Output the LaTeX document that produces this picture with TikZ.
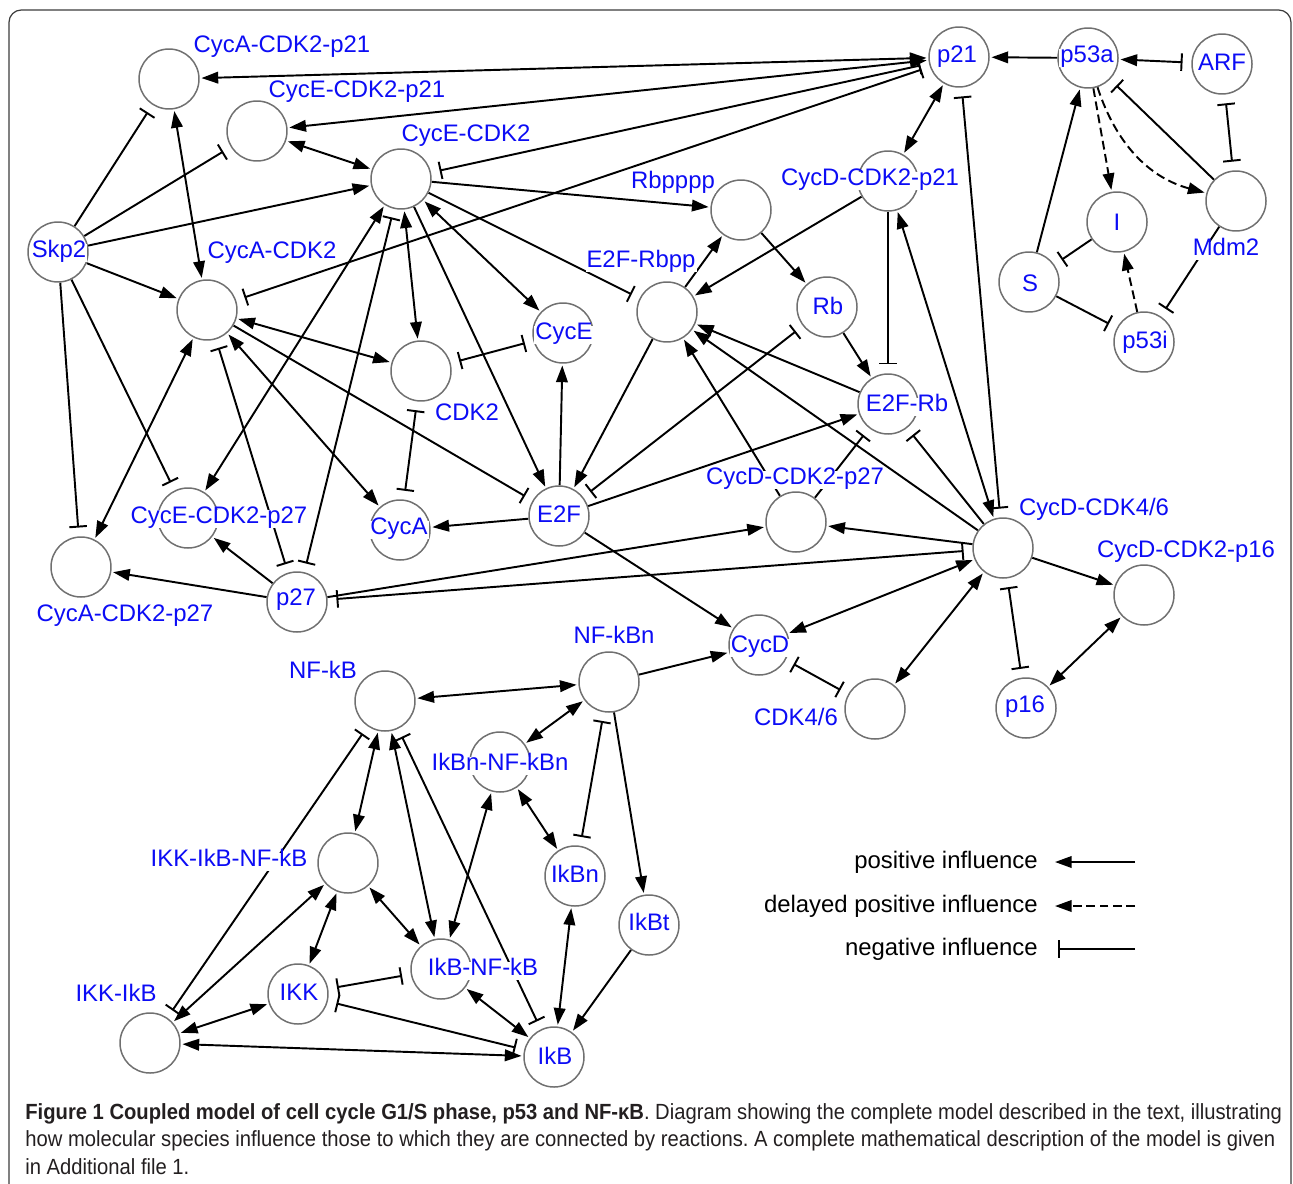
\documentclass[tikz,border=0pt]{standalone}
\usepackage{fontspec}
\setmainfont{Liberation Sans}
\newfontfamily\capfont[FakeStretch=0.92]{Liberation Sans}
\usepackage{tikz}
\usetikzlibrary{arrows.meta}
\usepackage{xcolor}
\definecolor{spblue}{RGB}{12,12,245}
\definecolor{ringgray}{RGB}{112,112,112}
\definecolor{framegray}{RGB}{60,60,60}
\definecolor{captext}{RGB}{35,31,32}
\pgfdeclarelayer{edgelayer}
\pgfsetlayers{edgelayer,main}
\frenchspacing

\tikzset{
  species/.style={circle, draw=ringgray, line width=0.85pt, minimum size=1.2cm, inner sep=0pt},
  spname/.style={text=spblue, fill=white, inner sep=0.6pt, text height=0.74em, text depth=0.2em, font=\fontsize{13.6}{15}\selectfont},
  legtext/.style={anchor=east, inner sep=0pt, text height=0.74em, text depth=0.2em, font=\fontsize{13.6}{15}\selectfont},
  capline/.style={anchor=west, inner sep=0pt, text=captext, font=\capfont\fontsize{12.5}{14}\selectfont},
  act/.style={-{Triangle[length=9.5pt,width=6.6pt]}, shorten >=1pt},
  actboth/.style={{Triangle[length=9.5pt,width=6.6pt]}-{Triangle[length=9.5pt,width=6.6pt]}, shorten >=1pt, shorten <=1pt},
  inh/.style={-{Bar[width=10pt]}, shorten >=5pt},
  inhboth/.style={{Bar[width=10pt]}-{Bar[width=10pt]}, shorten >=5pt, shorten <=5pt},
  actinh/.style={{Triangle[length=9.5pt,width=6.6pt]}-{Bar[width=10pt]}, shorten <=1pt, shorten >=5pt},
  delayed/.style={act, dash pattern=on 5pt off 2.6pt}
}

\begin{document}
\begin{tikzpicture}[x=0.02cm, y=-0.02cm]
\useasboundingbox (0,0) rectangle (1293,1183);
\draw[framegray, line width=0.7pt, rounded corners=7pt] (9,1200) -- (9,10) -- (1291,10) -- (1291,1200);

% species of the cell cycle and p53 part
\node[species] (cac21) at (169,79) {};
\node[species] (cec21) at (257,131) {};
\node[species] (cec2) at (401,179) {};
\node[species] (p21) at (959,57) {};
\node[species] (p53a) at (1088,58) {};
\node[species] (arf) at (1222,64) {};
\node[species] (mdm2) at (1236,201) {};
\node[species] (i) at (1117,222) {};
\node[species] (s) at (1029,282) {};
\node[species] (p53i) at (1144,342) {};
\node[species] (skp2) at (58,252) {};
\node[species] (cac2) at (207,310) {};
\node[species] (rbpppp) at (741,210) {};
\node[species] (cd21) at (888,181) {};
\node[species] (e2frbpp) at (667,312) {};
\node[species] (rb) at (827,307) {};
\node[species] (cyce) at (563,333) {};
\node[species] (cdk2) at (421,371) {};
\node[species] (e2frb) at (888,404) {};
\node[species] (cd27) at (796,522) {};
\node[species] (cd46) at (1003,548) {};
\node[species] (cd16) at (1144,595) {};
\node[species] (p16) at (1026,708) {};
\node[species] (ce27) at (188,518) {};
\node[species] (cyca) at (400,530) {};
\node[species] (e2f) at (559,516) {};
\node[species] (ca27) at (81,567) {};
\node[species] (p27) at (297,602) {};
\node[species] (cycd) at (759,645) {};
\node[species] (cdk46) at (875,709) {};

% species of the NF-kB part
\node[species] (nfkb) at (385,701) {};
\node[species] (nfkbn) at (609,682) {};
\node[species] (ikbnn) at (500,762) {};
\node[species] (iinf) at (348,863) {};
\node[species] (ikbn) at (575,876) {};
\node[species] (ikbt) at (649,925) {};
\node[species] (ikbnf) at (441,969) {};
\node[species] (ikk) at (298,994) {};
\node[species] (ikkikb) at (150,1043) {};
\node[species] (ikb) at (554,1057) {};

\begin{pgfonlayer}{edgelayer}
\begin{scope}[line width=1.1pt]
\draw[actboth] (p21) -- (cac21);
\draw[actboth] (p21) -- (cec21);
\draw[inhboth] (p21) -- (cec2);
\draw[inhboth] (p21) -- (cac2);
\draw[act] (p53a) -- (p21);
\draw[actinh] (p53a) -- (arf);
\draw[inhboth] (arf) -- (mdm2);
\draw[inh] (mdm2) -- (p53a);
\draw[delayed] (p53a) -- (i);
\draw[delayed] (p53a) to[out=-72,in=165] (mdm2);
\draw[act] (s) -- (p53a);
\draw[inh] (i) -- (s);
\draw[inh] (s) -- (p53i);
\draw[delayed] (p53i) -- (i);
\draw[inh] (mdm2) -- (p53i);
\draw[actboth] (p21) -- (cd21);
\draw[inhboth] (p21) -- (cd46);
\draw[actboth] (cd46) -- (cd21);
\draw[inh] (cd21) -- (e2frb);
\draw[act] (cd21) -- (e2frbpp);
\draw[act] (rbpppp) -- (rb);
\draw[act] (e2frbpp) -- (rbpppp);
\draw[act] (cec2) -- (rbpppp);
\draw[inh] (cec2) -- (e2frbpp);
\draw[act] (rb) -- (e2frb);
\draw[act] (e2frb) -- (e2frbpp);
\draw[act] (cd46) -- (e2frbpp);
\draw[act] (cd27) -- (e2frbpp);
\draw[inh] (cd27) -- (e2frb);
\draw[inh] (cd46) -- (e2frb);
\draw[act] (e2f) -- (e2frb);
\draw[inhboth] (rb) -- (e2f);
\draw[act] (e2frbpp) -- (e2f);
\draw[act] (e2f) -- (cyce);
\draw[act] (e2f) -- (cyca);
\draw[act] (cec2) -- (e2f);
\draw[inh] (cac2) -- (e2f);
\draw[actboth] (cac2) -- (cdk2);
\draw[inhboth] (cdk2) -- (cyce);
\draw[inhboth] (cdk2) -- (cyca);
\draw[actboth] (cec2) -- (cdk2);
\draw[actboth] (cec2) -- (cyce);
\draw[actboth] (cec2) -- (cec21);
\draw[actboth] (cec2) -- (ce27);
\draw[inhboth] (cec2) -- (p27);
\draw[act] (skp2) -- (cec2);
\draw[inh] (skp2) -- (cec21);
\draw[inh] (skp2) -- (cac21);
\draw[act] (skp2) -- (cac2);
\draw[inh] (skp2) -- (ce27);
\draw[inh] (skp2) -- (ca27);
\draw[actboth] (cac21) -- (cac2);
\draw[actboth] (cac2) -- (ca27);
\draw[inhboth] (cac2) -- (p27);
\draw[actboth] (cac2) -- (cyca);
\draw[act] (p27) -- (ce27);
\draw[act] (p27) -- (ca27);
\draw[act] (p27) -- (cd27);
\draw[inhboth] (p27) -- (cd46);
\draw[act] (cd46) -- (cd27);
\draw[actboth] (cd46) -- (cycd);
\draw[act] (e2f) -- (cycd);
\draw[act] (nfkbn) -- (cycd);
\draw[inhboth] (cycd) -- (cdk46);
\draw[actboth] (cd46) -- (cdk46);
\draw[inhboth] (cd46) -- (p16);
\draw[act] (cd46) -- (cd16);
\draw[actboth] (p16) -- (cd16);
% NF-kB
\draw[actboth] (nfkb) -- (nfkbn);
\draw[actboth] (nfkbn) -- (ikbnn);
\draw[inhboth] (nfkbn) -- (ikbn);
\draw[act] (nfkbn) -- (ikbt);
\draw[actboth] (ikbnn) -- (ikbn);
\draw[actboth] (ikbnn) -- (ikbnf);
\draw[actboth] (ikbn) -- (ikb);
\draw[act] (ikbt) -- (ikb);
\draw[actboth] (ikbnf) -- (ikb);
\draw[inhboth] (nfkb) -- (ikb);
\draw[actboth] (nfkb) -- (ikbnf);
\draw[actboth] (nfkb) -- (iinf);
\draw[inhboth] (nfkb) -- (ikkikb);
\draw[actboth] (iinf) -- (ikkikb);
\draw[actboth] (iinf) -- (ikk);
\draw[actboth] (iinf) -- (ikbnf);
\draw[actboth] (ikk) -- (ikkikb);
\draw[inhboth] (ikk) -- (ikbnf);
\draw[inhboth] (ikk) -- (ikb);
\draw[actboth] (ikb) -- (ikkikb);
\end{scope}
\end{pgfonlayer}

% names
\node[spname] (cac21-t) at (282,48) {CycA-CDK2-p21};
\node[spname] (cec21-t) at (357,93) {CycE-CDK2-p21};
\node[spname] (cec2-t) at (466,137) {CycE-CDK2};
\node[spname] (p21-t) at (957,58) {p21};
\node[spname] (p53a-t) at (1087,58) {p53a};
\node[spname] (arf-t) at (1222,66) {ARF};
\node[spname] (mdm2-t) at (1226,251) {Mdm2};
\node[spname] (i-t) at (1117,226) {I};
\node[spname] (s-t) at (1030,287) {S};
\node[spname] (p53i-t) at (1145,344) {p53i};
\node[spname] (skp2-t) at (59,253) {Skp2};
\node[spname] (cac2-t) at (272,254) {CycA-CDK2};
\node[spname] (rbpppp-t) at (673,184) {Rbpppp};
\node[spname] (cd21-t) at (870,181) {CycD-CDK2-p21};
\node[spname] (e2frbpp-t) at (641,263) {E2F-Rbpp};
\node[spname] (rb-t) at (828,310) {Rb};
\node[spname] (cyce-t) at (564,335) {CycE};
\node[spname] (cdk2-t) at (467,416) {CDK2};
\node[spname] (e2frb-t) at (907,407) {E2F-Rb};
\node[spname] (cd27-t) at (795,480) {CycD-CDK2-p27};
\node[spname] (cd46-t) at (1094,511) {CycD-CDK4/6};
\node[spname] (cd16-t) at (1186,553) {CycD-CDK2-p16};
\node[spname] (p16-t) at (1025,708) {p16};
\node[spname] (ce27-t) at (219,519) {CycE-CDK2-p27};
\node[spname] (cyca-t) at (399,530) {CycA};
\node[spname] (e2f-t) at (559,518) {E2F};
\node[spname] (ca27-t) at (125,617) {CycA-CDK2-p27};
\node[spname] (p27-t) at (296,601) {p27};
\node[spname] (cycd-t) at (760,648) {CycD};
\node[spname] (cdk46-t) at (796,721) {CDK4/6};
\node[spname] (nfkb-t) at (323,674) {NF-kB};
\node[spname] (nfkbn-t) at (614,639) {NF-kBn};
\node[spname] (ikbnn-t) at (500,766) {IkBn-NF-kBn};
\node[spname] (iinf-t) at (229,862) {IKK-IkB-NF-kB};
\node[spname] (ikbn-t) at (575,878) {IkBn};
\node[spname] (ikbt-t) at (649,926) {IkBt};
\node[spname] (ikbnf-t) at (483,971) {IkB-NF-kB};
\node[spname] (ikk-t) at (299,996) {IKK};
\node[spname] (ikkikb-t) at (116,997) {IKK-IkB};
\node[spname] (ikb-t) at (555,1060) {IkB};

% legend
\node[legtext] (leg-act) at (1038,864) {positive influence};
\node[legtext] (leg-delay) at (1038,908) {delayed positive influence};
\node[legtext] (leg-inh) at (1038,951) {negative influence};
\coordinate (leg-actA) at (1135,862);
\coordinate (leg-actB) at (1055,862);
\coordinate (leg-delayA) at (1135,906);
\coordinate (leg-delayB) at (1055,906);
\coordinate (leg-inhA) at (1135,949);
\coordinate (leg-inhB) at (1058,949);
\draw[act, line width=1.1pt, shorten >=0pt] (leg-actA) -- (leg-actB);
\draw[delayed, line width=1.1pt, shorten >=0pt] (leg-delayA) -- (leg-delayB);
\draw[inh, line width=1.1pt, shorten >=0pt] (leg-inhA) -- (leg-inhB);

% caption
\node[capline] (cap1) at (25,1114) {{\bfseries Figure 1 Coupled model of cell cycle G1/S phase, p53 and NF-κB}. Diagram showing the complete model described in the text, illustrating};
\node[capline] (cap2) at (25,1141) {how molecular species influence those to which they are connected by reactions. A complete mathematical description of the model is given};
\node[capline] (cap3) at (25,1167) {in Additional file 1.};
\end{tikzpicture}
\end{document}
